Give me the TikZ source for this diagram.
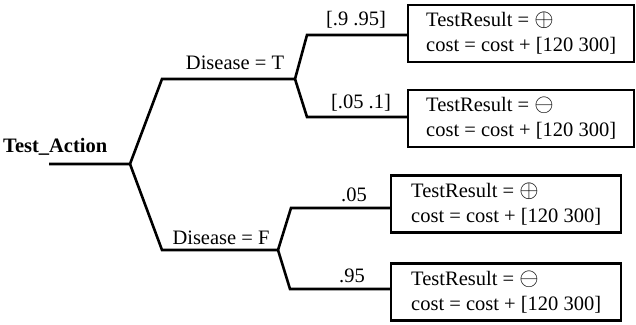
\documentclass[tikz,border=0pt]{standalone}
\usepackage{fontspec}
\setmainfont{Liberation Serif}
\usetikzlibrary{positioning, calc}

\newcommand{\respos}{{\fontsize{25}{25}\selectfont$\oplus$}}
\newcommand{\resneg}{{\fontsize{25}{25}\selectfont$\ominus$}}

\begin{document}
\begin{tikzpicture}[
    x=1pt, y=-1pt,
    font=\fontsize{20.5}{25}\selectfont,
    branch/.style={line width=2.6pt, line join=miter},
    outcome/.style={
        rectangle, draw=black, line width=2.4pt,
        minimum height=57pt, minimum width=226pt,
        align=left, inner xsep=6pt, inner ysep=3pt, anchor=west
    },
    declabel/.style={anchor=base, inner sep=0pt},
    problabel/.style={anchor=base, inner sep=0pt},
    rootlabel/.style={anchor=base west, inner sep=0pt, font=\fontsize{20.5}{25}\selectfont\bfseries}
]

\useasboundingbox (0,0) rectangle (636,324);

% ---------------- Root ----------------
\node[rootlabel] (action_lbl) at (3,152) {Test\_Action};
\coordinate (root_start) at (49,164);
\coordinate (root) at (130,164);

% ---------------- Disease branches ----------------
\coordinate (t_kink) at (162,79);
\coordinate (dis_t) at (295,79);
\coordinate (f_kink) at (162,250);
\coordinate (dis_f) at (278,250);

\node[declabel] (dis_t_lbl) at (235,69) {Disease = T};
\node[declabel] (dis_f_lbl) at (221,244) {Disease = F};

% ---------------- Test results ----------------
\node[outcome] (res_tp) at (407,33.5) {TestResult = \respos\\ cost = cost + [120 300]};
\node[outcome] (res_tn) at (407,118.5) {TestResult = \resneg\\ cost = cost + [120 300]};
\node[outcome, minimum width=230pt] (res_fp) at (390,204) {TestResult = \respos\\ cost = cost + [120 300]};
\node[outcome, minimum width=230pt] (res_fn) at (390,292) {TestResult = \resneg\\ cost = cost + [120 300]};

\coordinate (tp_kink) at (307,35);
\coordinate (tn_kink) at (307,117);
\coordinate (fp_kink) at (291,208);
\coordinate (fn_kink) at (290,289);

\node[problabel] (p_tp) at (356,25) {[.9 .95]};
\node[problabel] (p_tn) at (361,108) {[.05 .1]};
\node[problabel] (p_fp) at (354,201) {.05};
\node[problabel] (p_fn) at (352,282) {.95};

% ---------------- Lines ----------------
\draw[branch] (root_start) -- (root) -- (t_kink) -- (dis_t);
\draw[branch] (root) -- (f_kink) -- (dis_f);
\draw[branch] (dis_t) -- (tp_kink) -- (tp_kink -| res_tp.west);
\draw[branch] (dis_t) -- (tn_kink) -- (tn_kink -| res_tn.west);
\draw[branch] (dis_f) -- (fp_kink) -- (fp_kink -| res_fp.west);
\draw[branch] (dis_f) -- (fn_kink) -- (fn_kink -| res_fn.west);

\end{tikzpicture}
\end{document}
